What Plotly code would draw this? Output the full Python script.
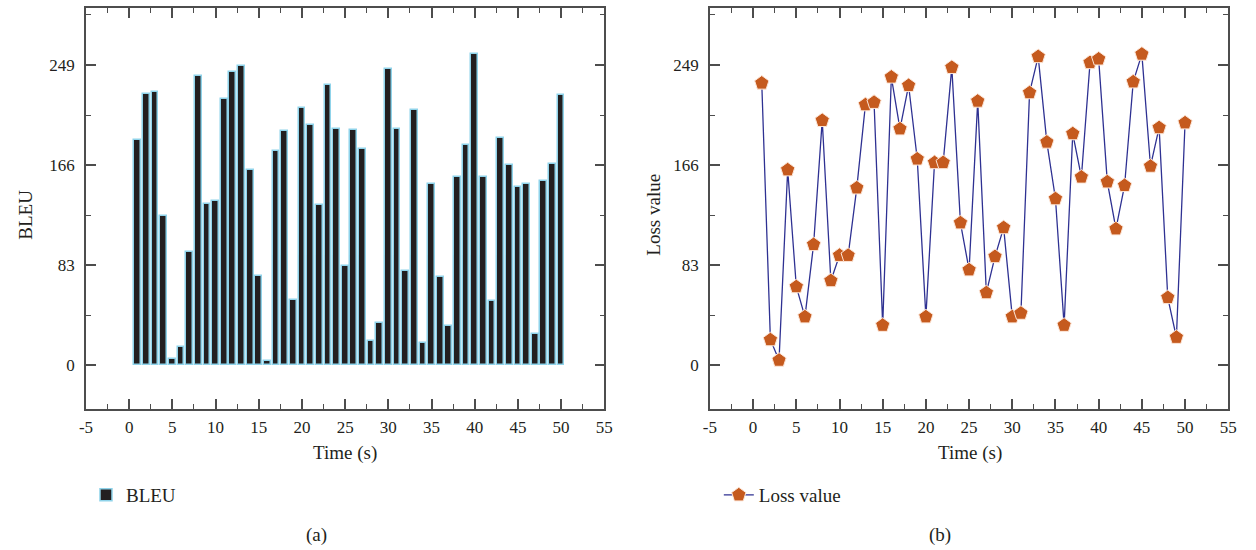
import plotly.graph_objects as go

time_s = list(range(1, 51))
bleu = [187, 225, 227, 124, 5, 15, 94, 240, 134, 136,
        221, 243, 248, 162, 74, 3, 178, 194, 54, 213,
        199, 133, 232, 196, 82, 195, 179, 20, 35, 246,
        196, 78, 212, 18, 150, 73, 32, 156, 183, 258,
        156, 53, 188, 166, 148, 150, 26, 153, 167, 224]
loss = [234, 21, 4, 162, 65, 40, 100, 203, 70, 91,
        91, 147, 216, 218, 33, 239, 196, 232, 171, 40,
        168, 168, 247, 118, 79, 219, 60, 90, 114, 40,
        43, 226, 256, 185, 138, 33, 192, 156, 251, 254,
        152, 113, 149, 235, 258, 165, 197, 56, 23, 201]
ytick_vals = [0, 83, 166, 249]
ytick_text = ["0", "83", "166", "249"]
xtick_vals = list(range(-5, 56, 5))
xtick_text = [str(v) for v in xtick_vals]

FONT = "Liberation Serif"
TXT = "#231f20"
AX = "#4d4d4d"

W, H = 1256, 550
def px(X):
    return X / W
def py(Y):
    return 1 - Y / H

fig = go.Figure()
fig.add_trace(go.Bar(
    x=time_s, y=bleu, name="BLEU", width=0.78,
    marker=dict(color="#231f20", line=dict(color="#8fd3ea", width=1.5)),
    xaxis="x", yaxis="y", legend="legend",
))
fig.add_trace(go.Scatter(
    x=time_s, y=loss, name="Loss value", mode="lines+markers",
    line=dict(color="#2e3192", width=1.3),
    marker=dict(symbol="pentagon", size=15, color="#c55a1e",
                line=dict(color="#fde7d9", width=1)),
    xaxis="x2", yaxis="y2", legend="legend2",
))

def xax(domain, anchor):
    return dict(domain=domain, anchor=anchor, range=[-5, 55],
                tickvals=xtick_vals, ticktext=xtick_text,
                ticks="inside", ticklen=10, tickwidth=1.5, tickcolor=AX,
                minor=dict(dtick=2.5, tick0=-5, ticks="inside", ticklen=5, tickwidth=1.2, tickcolor=AX),
                showline=True, linecolor=AX, linewidth=1.5, mirror="allticks",
                showgrid=False, zeroline=False, ticklabelstandoff=2,
                tickfont=dict(family=FONT, size=17, color=TXT))

def yax(anchor):
    return dict(domain=[py(409), py(8)], anchor=anchor, range=[-36.5, 296.3],
                tickvals=ytick_vals, ticktext=ytick_text,
                ticks="inside", ticklen=10, tickwidth=1.5, tickcolor=AX,
                minor=dict(dtick=41.5, tick0=0, ticks="inside", ticklen=5, tickwidth=1.2, tickcolor=AX),
                showline=True, linecolor=AX, linewidth=1.5, mirror="allticks",
                showgrid=False, zeroline=False, ticklabelstandoff=6,
                tickfont=dict(family=FONT, size=17, color=TXT))

annots = [
    dict(text="BLEU", x=19, y=215, textangle=-90),
    dict(text="Loss value", x=655, y=215, textangle=-90),
    dict(text="Time (s)", x=342, y=453),
    dict(text="Time (s)", x=975, y=453),
    dict(text="(a)", x=313, y=535),
    dict(text="(b)", x=945, y=535),
]
annotations = []
for a in annots:
    annotations.append(dict(text=a["text"], x=px(a["x"]), y=py(a["y"]),
                            xref="paper", yref="paper", showarrow=False,
                            xanchor="center", yanchor="middle",
                            textangle=a.get("textangle", 0),
                            font=dict(family=FONT, size=19, color=TXT)))

fig.update_layout(
    width=W, height=H,
    margin=dict(l=0, r=0, t=0, b=0),
    paper_bgcolor="white", plot_bgcolor="white",
    bargap=0,
    xaxis=xax([px(80), px(605)], "y"),
    yaxis=yax("x"),
    xaxis2=xax([px(712), px(1237)], "y2"),
    yaxis2=yax("x2"),
    legend=dict(x=px(80), y=py(495), xanchor="left", yanchor="middle",
                bgcolor="rgba(0,0,0,0)", font=dict(family=FONT, size=19, color=TXT)),
    legend2=dict(x=px(721), y=py(495), xanchor="left", yanchor="middle",
                 bgcolor="rgba(0,0,0,0)", font=dict(family=FONT, size=19, color=TXT)),
    annotations=annotations,
    showlegend=True,
)

fig.write_html("out.html",
               config={"displayModeBar": False},
               post_script="document.body.style.margin='0';document.body.style.overflow='hidden';")
